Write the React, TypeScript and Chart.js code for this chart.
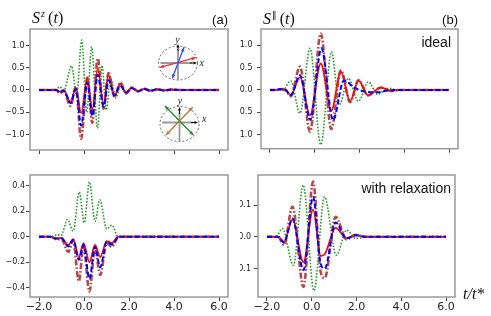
import React, { useEffect, useRef } from 'react';
import { Chart, registerables } from 'chart.js';
Chart.register(...registerables);

// ---------------- data ----------------
const xTicks = [-2, 0, 2, 4, 6];
const xTickLabels = ['−2.0', '0.0', '2.0', '4.0', '6.0'];

const yTicksTop = [-1, -0.5, 0, 0.5, 1];
const yLabelsTop = ['−1.0', '−0.5', '0.0', '0.5', '1.0'];
const yTicksC = [-0.4, -0.2, 0, 0.2, 0.4];
const yLabelsC = ['−0.4', '−0.2', '0.0', '0.2', '0.4'];
const yTicksD = [-0.1, 0, 0.1];
const yLabelsD = ['−0.1', '0.0', '0.1'];

// panel (a): S^z, ideal
const xA = [-2.0, -1.25, -1.07, -0.9, -0.6, -0.36, -0.13, 0.15, 0.37, 0.61, 0.87, 1.09, 1.36, 1.61, 1.87, 2.13, 2.4, 2.68, 2.95, 3.25, 3.55, 3.9, 4.3, 6.0];
const redA = [0, 0, -0.04, -0.01, -0.27, 0.05, -0.52, 0.27, -0.44, 0.48, -0.32, 0.33, -0.14, 0.14, -0.07, 0.05, -0.03, 0.025, -0.02, 0.015, -0.01, 0.008, 0, 0];
const blueA = [0, 0, -0.05, -0.01, -0.3, 0.02, -0.8, 0.17, -0.58, 0.34, -0.37, 0.22, -0.12, 0.1, -0.06, 0.04, -0.03, 0.025, -0.02, 0.015, -0.01, 0.008, 0, 0];
const brownA = [0, 0, -0.08, -0.02, -0.36, 0.07, -1.1, 0.28, -0.74, 0.71, -0.42, 0.38, -0.16, 0.17, -0.08, 0.06, -0.03, 0.025, -0.02, 0.015, -0.01, 0.008, 0, 0];
const xGA = [-2.0, -1.3, -1.07, -0.9, -0.55, -0.33, -0.1, 0.12, 0.34, 0.6, 0.8, 0.99, 1.18, 1.42, 1.62, 1.85, 2.1, 2.4, 2.7, 3.0, 6.0];
const greenA = [0, 0, 0.07, -0.01, 0.54, -0.12, 1.12, -0.5, 0.97, -0.86, 0.55, -0.45, 0.27, -0.18, 0.1, -0.06, 0.05, -0.02, 0.02, 0, 0];

// panel (b): S^||, ideal
const xB = [-2.0, -1.7, -1.55, -1.3, -1.07, -0.66, -0.21, 0.27, 0.74, 1.17, 1.58, 1.96, 2.38, 2.95, 3.4, 3.8, 6.0];
const redB = [0, 0, 0.02, 0.0, -0.11, 0.28, -0.56, 0.59, -0.46, 0.41, -0.25, 0.21, -0.12, 0.06, -0.02, 0, 0];
const brownB = [0, 0, 0.02, 0.0, -0.14, 0.52, -0.93, 1.26, -0.87, 0.44, -0.27, 0.22, -0.12, 0.05, -0.02, 0, 0];
const xBB = [-2.0, -1.7, -1.55, -1.3, -1.07, -0.66, -0.2, 0.3, 0.82, 1.3, 1.8, 2.3, 2.8, 3.3, 3.8, 6.0];
const blueB = [0, 0, 0.02, 0.0, -0.12, 0.33, -0.67, 0.93, -0.67, 0.21, 0.04, -0.04, -0.05, -0.01, 0, 0];
const xGB = [-2.0, -1.6, -1.45, -1.07, -0.66, -0.21, 0.27, 0.75, 1.1, 1.5, 1.95, 2.4, 2.8, 3.3, 3.7, 6.0];
const greenB = [0, 0, -0.02, 0.2, -0.52, 0.93, -1.22, 0.85, -0.33, 0.26, -0.25, 0.18, -0.1, 0.04, 0, 0];

// panel (c): S^z, with relaxation
const xC = [-2.0, -1.5, -1.22, -1.0, -0.7, -0.48, -0.23, -0.02, 0.24, 0.49, 0.72, 1.01, 1.24, 1.54, 6.0];
const redC = [0, 0, -0.013, -0.01, -0.065, -0.02, -0.16, -0.05, -0.2, -0.065, -0.16, -0.035, -0.05, 0, 0];
const blueC = [0, 0, -0.015, -0.012, -0.075, -0.025, -0.18, -0.065, -0.33, -0.08, -0.24, -0.04, -0.06, 0, 0];
const brownC = [0, 0, -0.02, -0.02, -0.12, -0.03, -0.35, -0.07, -0.43, -0.09, -0.3, -0.05, -0.08, 0, 0];
const xGC = [-2.0, -1.5, -1.2, -1.02, -0.73, -0.48, -0.21, 0.01, 0.24, 0.49, 0.7, 1.01, 1.24, 1.52, 6.0];
const greenC = [0, 0, 0.015, 0.01, 0.135, 0.045, 0.35, 0.11, 0.43, 0.12, 0.29, 0.06, 0.09, 0, 0];

// panel (d): S^||, with relaxation
const xD = [-2.0, -1.5, -1.24, -0.86, -0.37, 0.06, 0.4, 0.58, 1.07, 1.55, 1.97, 2.4, 6.0];
const redD = [0, 0, -0.016, 0.055, -0.08, 0.086, -0.06, -0.055, 0.028, -0.004, 0.005, 0, 0];
const blueD = [0, 0, -0.018, 0.058, -0.105, 0.126, -0.085, -0.1, 0.045, -0.005, 0.005, 0, 0];
const brownD = [0, 0, -0.026, 0.095, -0.158, 0.174, -0.11, -0.13, 0.063, -0.008, 0.006, 0, 0];
const xGD = [-2.0, -1.6, -1.31, -0.82, -0.38, 0.1, 0.57, 1.1, 1.56, 1.97, 2.5, 6.0];
const greenD = [0, 0, 0.026, -0.09, 0.163, -0.17, 0.126, -0.058, 0.021, -0.005, 0, 0];

// ---------------- styling ----------------
type Kind = 'red' | 'blue' | 'green' | 'brown';
const STYLE: Record<Kind, any> = {
  blue: { borderColor: '#0000ff', borderWidth: 2, borderDash: [5, 2.5] },
  red: { borderColor: '#f01010', borderWidth: 1.8, borderDash: [] },
  green: { borderColor: '#2a9a2a', borderWidth: 1.6, borderDash: [1.6, 1.6] },
  brown: { borderColor: 'rgba(165,42,42,0.85)', borderWidth: 2.6, borderDash: [6, 2, 1.6, 2] },
};

type Series = { xs: number[]; ys: number[]; kind: Kind };

const framePlugin = {
  id: 'frame',
  afterDatasetsDraw(chart: any) {
    const { ctx, chartArea: a } = chart;
    ctx.save();
    ctx.strokeStyle = '#9a9a9a';
    ctx.lineWidth = 1.5;
    ctx.setLineDash([]);
    ctx.strokeRect(a.left, a.top, a.right - a.left, a.bottom - a.top);
    ctx.restore();
  },
};

function arrowHead(ctx: CanvasRenderingContext2D, x: number, y: number, ang: number, size: number, color: string) {
  const c = Math.cos(ang), s = Math.sin(ang);
  ctx.save();
  ctx.fillStyle = color;
  ctx.beginPath();
  ctx.moveTo(x, y);
  ctx.lineTo(x - size * c + size * 0.45 * s, y - size * s - size * 0.45 * c);
  ctx.lineTo(x - size * c - size * 0.45 * s, y - size * s + size * 0.45 * c);
  ctx.closePath();
  ctx.fill();
  ctx.restore();
}

function doubleArrow(ctx: CanvasRenderingContext2D, x1: number, y1: number, x2: number, y2: number, color: string) {
  ctx.save();
  ctx.strokeStyle = color;
  ctx.lineWidth = 1.3;
  ctx.setLineDash([]);
  ctx.beginPath();
  ctx.moveTo(x1, y1);
  ctx.lineTo(x2, y2);
  ctx.stroke();
  ctx.restore();
  const ang = Math.atan2(y2 - y1, x2 - x1);
  arrowHead(ctx, x2, y2, ang, 4, color);
  arrowHead(ctx, x1, y1, ang + Math.PI, 4, color);
}

type Inset = {
  cx: number; cy: number; rx: number; ry: number;
  hy: number; hx0: number; hx1: number; vx: number; vy0: number; vy1: number;
  lx: [number, number]; ly: [number, number];
  lines: { c: string; p: [number, number, number, number] }[];
};

const INSETS: Inset[] = [
  {
    cx: 178, cy: 63, rx: 19.5, ry: 17,
    hy: 63, hx0: 160.5, hx1: 197, vx: 178, vy0: 80, vy1: 44,
    lx: [199.5, 63], ly: [177.5, 40.5],
    lines: [
      { c: '#f03030', p: [160, 67.3, 195.7, 57.7] },
      { c: '#3050ff', p: [172.3, 78.3, 184, 47.3] },
    ],
  },
  {
    cx: 179.5, cy: 124, rx: 19.5, ry: 17.5,
    hy: 122.5, hx0: 162, hx1: 198, vx: 179.5, vy0: 141, vy1: 107,
    lx: [202, 119.5], ly: [180, 101.5],
    lines: [
      { c: '#228b22', p: [165, 106, 193.3, 135] },
      { c: '#b87a35', p: [166, 135, 192.7, 107.3] },
    ],
  },
];

const insetPlugin = {
  id: 'insets',
  afterDraw(chart: any) {
    const ctx: CanvasRenderingContext2D = chart.ctx;
    INSETS.forEach((s) => {
      ctx.save();
      ctx.strokeStyle = '#555';
      ctx.lineWidth = 0.9;
      ctx.setLineDash([2, 2]);
      ctx.beginPath();
      ctx.ellipse(s.cx, s.cy, s.rx, s.ry, 0, 0, Math.PI * 2);
      ctx.stroke();
      ctx.setLineDash([]);
      ctx.strokeStyle = '#9a9a9a';
      ctx.lineWidth = 1.8;
      ctx.beginPath();
      ctx.moveTo(s.hx0, s.hy);
      ctx.lineTo(s.hx1 - 5, s.hy);
      ctx.moveTo(s.vx, s.vy0);
      ctx.lineTo(s.vx, s.vy1 + 5);
      ctx.stroke();
      ctx.strokeStyle = '#111';
      ctx.lineWidth = 1;
      ctx.beginPath();
      ctx.moveTo(s.hx1 - 7, s.hy);
      ctx.lineTo(s.hx1 - 2, s.hy);
      ctx.moveTo(s.vx, s.vy1 + 7);
      ctx.lineTo(s.vx, s.vy1 + 2);
      ctx.stroke();
      ctx.restore();
      arrowHead(ctx, s.hx1, s.hy, 0, 3.5, '#111');
      arrowHead(ctx, s.vx, s.vy1, -Math.PI / 2, 3.5, '#111');
      s.lines.forEach((l) => doubleArrow(ctx, l.p[0], l.p[1], l.p[2], l.p[3], l.c));
      ctx.save();
      ctx.fillStyle = '#222';
      ctx.font = "italic 10px 'Liberation Serif'";
      ctx.textBaseline = 'middle';
      ctx.textAlign = 'left';
      ctx.fillText('x', s.lx[0], s.lx[1]);
      ctx.textAlign = 'center';
      ctx.fillText('y', s.ly[0], s.ly[1]);
      ctx.restore();
    });
  },
};

type PanelProps = {
  left: number; top: number; width: number; height: number;
  yw: number; xh: number; padTop: number; padRight: number;
  yMin: number; yMax: number; yTicks: number[]; yLabels: string[]; yPad: number;
  showX: boolean; series: Series[]; insets?: boolean;
};

function Panel(p: PanelProps) {
  const ref = useRef<HTMLCanvasElement | null>(null);
  useEffect(() => {
    if (!ref.current) return;
    const order: Kind[] = ['blue', 'red', 'green', 'brown'];
    const datasets = order
      .map((k) => p.series.find((s) => s.kind === k))
      .filter(Boolean)
      .map((s: any) => ({
        data: s.xs.map((x: number, i: number) => ({ x, y: s.ys[i] })),
        ...STYLE[s.kind as Kind],
        pointRadius: 0,
        fill: false,
        cubicInterpolationMode: 'monotone',
      }));
    const plugins: any[] = [framePlugin];
    if (p.insets) plugins.push(insetPlugin);
    const chart = new Chart(ref.current, {
      type: 'line',
      data: { datasets },
      plugins,
      options: {
        animation: false,
        responsive: false,
        maintainAspectRatio: false,
        layout: { padding: { left: 0, right: p.padRight, top: p.padTop, bottom: 0 } },
        plugins: { legend: { display: false }, tooltip: { enabled: false } },
        scales: {
          x: {
            type: 'linear',
            min: -2.4,
            max: 6.4,
            afterBuildTicks: (s: any) => { s.ticks = xTicks.map((v) => ({ value: v })); },
            afterFit: (s: any) => { s.height = p.xh; },
            border: { display: false },
            grid: { drawOnChartArea: false, drawTicks: true, tickLength: 4, color: '#444', lineWidth: 1 },
            ticks: {
              display: p.showX,
              autoSkip: false,
              maxRotation: 0,
              padding: 0,
              color: '#222',
              font: { family: "'DejaVu Sans'", size: 11 },
              callback: (_v: any, i: number) => xTickLabels[i],
            },
          },
          y: {
            type: 'linear',
            min: p.yMin,
            max: p.yMax,
            afterBuildTicks: (s: any) => { s.ticks = p.yTicks.map((v) => ({ value: v })); },
            afterFit: (s: any) => { s.width = p.yw; },
            border: { display: false },
            grid: { drawOnChartArea: false, drawTicks: true, tickLength: 4, color: '#444', lineWidth: 1 },
            ticks: {
              autoSkip: false,
              padding: p.yPad,
              color: '#222',
              font: { family: "'DejaVu Sans'", size: 8 },
              callback: (_v: any, i: number) => p.yLabels[i],
            },
          },
        },
      } as any,
    });
    return () => chart.destroy();
  }, []);
  return (
    <canvas
      ref={ref}
      width={p.width}
      height={p.height}
      style={{ position: 'absolute', left: p.left, top: p.top, width: p.width, height: p.height }}
    />
  );
}

const serif = "'Liberation Serif', serif";
const sans = "'Liberation Sans', sans-serif";

export default function App() {
  return (
    <div style={{ position: 'absolute', left: 0, top: 0, width: 491, height: 316, background: '#fff', overflow: 'hidden' }}>
      <Panel
        left={0} top={0} width={240} height={158} yw={30} xh={8} padTop={29} padRight={12}
        yMin={-1.35} yMax={1.37} yTicks={yTicksTop} yLabels={yLabelsTop} yPad={1.5} showX={false} insets
        series={[
          { xs: xA, ys: redA, kind: 'red' },
          { xs: xA, ys: blueA, kind: 'blue' },
          { xs: xA, ys: brownA, kind: 'brown' },
          { xs: xGA, ys: greenA, kind: 'green' },
        ]}
      />
      <Panel
        left={240} top={0} width={251} height={158} yw={21} xh={9} padTop={29} padRight={33}
        yMin={-1.31} yMax={1.36} yTicks={yTicksTop} yLabels={yLabelsTop} yPad={4.5} showX={false}
        series={[
          { xs: xB, ys: redB, kind: 'red' },
          { xs: xBB, ys: blueB, kind: 'blue' },
          { xs: xB, ys: brownB, kind: 'brown' },
          { xs: xGB, ys: greenB, kind: 'green' },
        ]}
      />
      <Panel
        left={0} top={160} width={240} height={156} yw={30} xh={19} padTop={15} padRight={12}
        yMin={-0.473} yMax={0.484} yTicks={yTicksC} yLabels={yLabelsC} yPad={1} showX
        series={[
          { xs: xC, ys: redC, kind: 'red' },
          { xs: xC, ys: blueC, kind: 'blue' },
          { xs: xC, ys: brownC, kind: 'brown' },
          { xs: xGC, ys: greenC, kind: 'green' },
        ]}
      />
      <Panel
        left={240} top={160} width={251} height={156} yw={18} xh={19} padTop={15} padRight={36}
        yMin={-0.19} yMax={0.195} yTicks={yTicksD} yLabels={yLabelsD} yPad={3} showX
        series={[
          { xs: xD, ys: redD, kind: 'red' },
          { xs: xD, ys: blueD, kind: 'blue' },
          { xs: xD, ys: brownD, kind: 'brown' },
          { xs: xGD, ys: greenD, kind: 'green' },
        ]}
      />

      <div style={{ position: 'absolute', left: 32, top: 10, font: `italic 16px ${serif}`, lineHeight: 1, whiteSpace: 'nowrap', color: '#111' }}>
        S<span style={{ fontSize: 10, position: 'relative', top: -6, marginLeft: 1 }}>z</span>
        <span style={{ fontStyle: 'normal' }}>&thinsp;(</span>t<span style={{ fontStyle: 'normal' }}>)</span>
      </div>
      <div style={{ position: 'absolute', left: 263, top: 11, font: `italic 16px ${serif}`, lineHeight: 1, whiteSpace: 'nowrap', color: '#111' }}>
        S<span style={{ fontSize: 9, fontStyle: 'normal', fontFamily: "'DejaVu Sans'", position: 'relative', top: -6, marginLeft: 1 }}>‖</span>
        <span style={{ fontStyle: 'normal' }}>&thinsp;(</span>t<span style={{ fontStyle: 'normal' }}>)</span>
      </div>
      <div style={{ position: 'absolute', right: 263, top: 13, font: `13px ${sans}`, lineHeight: 1, color: '#111' }}>(a)</div>
      <div style={{ position: 'absolute', right: 33, top: 13, font: `13px ${sans}`, lineHeight: 1, color: '#111' }}>(b)</div>
      <div style={{ position: 'absolute', right: 40, top: 35, font: `14px ${sans}`, lineHeight: 1, color: '#111' }}>ideal</div>
      <div style={{ position: 'absolute', right: 40, top: 181, font: `14px ${sans}`, lineHeight: 1, color: '#111', whiteSpace: 'nowrap' }}>with relaxation</div>
      <div style={{ position: 'absolute', left: 463, top: 286, font: `italic 16px ${serif}`, lineHeight: 1, color: '#111', whiteSpace: 'nowrap' }}>t/t*</div>
    </div>
  );
}
